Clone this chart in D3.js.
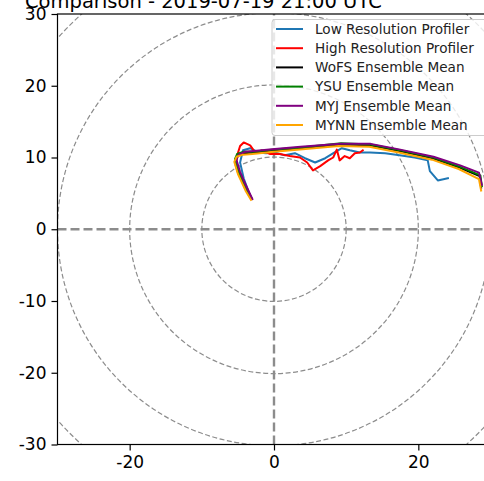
<!DOCTYPE html>
<html>
<head>
<meta charset="utf-8">
<script src="https://cdn.jsdelivr.net/npm/d3@7"></script>
<style>
  html, body { margin: 0; padding: 0; background: #fff; }
  svg { display: block; font-family: "DejaVu Sans", sans-serif; }
</style>
</head>
<body>
<svg id="chart" width="484" height="481"></svg>
<script>
// Hodograph: u (x) and v (y) wind components, m/s
const titleText = "Comparison - 2019-07-19 21:00 UTC";
const xTicks = [-20, 0, 20];
const yTicks = [-30, -20, -10, 0, 10, 20, 30];
const ringRadii = [10, 20, 30, 40, 50];

const seriesNames = ["Low Resolution Profiler", "High Resolution Profiler", "WoFS Ensemble Mean",
                     "YSU Ensemble Mean", "MYJ Ensemble Mean", "MYNN Ensemble Mean"];
const seriesColors = ["#1f77b4", "#ff0000", "#000000", "#008000", "#800080", "#ffa500"];

const lowResU = [-3.3, -4.2, -4.7, -4.3, -3.3, -2.2, -1.1, 0.1, 1.5, 2.9, 4.3, 5.7, 7.1, 8.4, 9.4, 10.5, 11.9, 13.3, 15.4, 17.4, 19.5, 21.3, 21.6, 22.7, 24.1];
const lowResV = [4.6, 7.1, 9.3, 11.0, 11.3, 10.7, 10.6, 10.7, 10.3, 10.6, 9.9, 9.3, 9.9, 10.7, 11.3, 11.0, 10.7, 10.7, 10.6, 10.3, 10.0, 9.6, 8.1, 6.8, 7.1];

const highResU = [-3.6, -5.0, -5.3, -5.1, -4.7, -4.2, -3.3, -2.6, -1.7, -0.6, 0.8, 2.2, 3.6, 4.6, 5.4, 6.4, 7.5, 8.2, 8.7, 9.1, 9.8, 10.5, 11.2, 11.9, 12.3];
const highResV = [5.0, 7.9, 8.9, 10.3, 11.6, 12.1, 11.7, 10.7, 11.0, 10.5, 10.5, 10.2, 10.0, 9.3, 8.2, 8.8, 9.6, 10.0, 11.1, 9.6, 10.2, 9.9, 10.6, 10.7, 11.0];

const wofsU = [-3.1, -3.7, -4.3, -4.8, -5.1, -5.3, -5.0, -4.1, -2.9, 0.0, 3.6, 9.1, 13.3, 17.4, 22.0, 25.7, 28.5, 28.7];
const wofsV = [4.3, 5.5, 6.8, 7.9, 8.9, 9.6, 10.3, 10.6, 10.7, 11.0, 11.3, 11.8, 11.7, 10.9, 9.9, 8.6, 7.4, 5.8];

const ysuU = [-3.2, -3.8, -4.4, -4.9, -5.2, -5.4, -5.1, -4.2, -3.0, 0.0, 3.7, 9.3, 13.4, 17.5, 22.1, 25.8, 28.6, 28.8];
const ysuV = [4.4, 5.6, 6.9, 8.0, 9.0, 9.8, 10.5, 10.8, 10.8, 11.1, 11.4, 12.0, 11.8, 11.0, 10.0, 8.7, 7.5, 6.0];

const myjU = [-3.0, -3.6, -4.2, -4.7, -5.0, -5.2, -4.9, -4.0, -2.8, 0.1, 3.7, 9.2, 13.4, 17.5, 22.1, 25.8, 28.4, 28.8];
const myjV = [4.2, 5.5, 6.8, 8.0, 9.0, 9.7, 10.4, 10.8, 10.9, 11.2, 11.5, 11.9, 11.9, 11.1, 10.1, 8.9, 7.9, 6.2];

const mynnU = [-3.2, -3.9, -4.5, -5.0, -5.3, -5.5, -5.2, -4.3, -3.0, 0.0, 3.6, 9.0, 13.2, 17.3, 21.9, 25.6, 28.4, 28.7];
const mynnV = [4.1, 5.3, 6.6, 7.7, 8.7, 9.4, 10.1, 10.4, 10.5, 10.8, 11.1, 11.6, 11.5, 10.7, 9.7, 8.4, 7.0, 5.4];

const seriesU = [lowResU, highResU, wofsU, ysuU, myjU, mynnU];
const seriesV = [lowResV, highResV, wofsV, ysuV, myjV, mynnV];

const svg = d3.select("#chart");
const x = d3.scaleLinear().domain([-30, 30]).range([57.5, 490.5]);
const y = d3.scaleLinear().domain([-30, 30]).range([444.5, 14]);

svg.append("defs").append("clipPath").attr("id", "plotClip")
  .append("rect")
  .attr("x", x(-30)).attr("y", y(30))
  .attr("width", x(30) - x(-30)).attr("height", y(-30) - y(30));

const plot = svg.append("g").attr("clip-path", "url(#plotClip)");

// speed rings
plot.selectAll("circle.ring").data(ringRadii).join("circle")
  .attr("class", "ring")
  .attr("cx", x(0)).attr("cy", y(0))
  .attr("r", d => x(d) - x(0))
  .attr("fill", "none")
  .attr("stroke", "#8c8c8c")
  .attr("stroke-width", 1.2)
  .attr("stroke-dasharray", "5,2.5");

// zero axes
plot.append("line")
  .attr("x1", x(-30)).attr("x2", x(30)).attr("y1", y(0)).attr("y2", y(0))
  .attr("stroke", "#8c8c8c").attr("stroke-width", 2.4).attr("stroke-dasharray", "9,4");
plot.append("line")
  .attr("x1", x(0)).attr("x2", x(0)).attr("y1", y(-30)).attr("y2", y(30))
  .attr("stroke", "#8c8c8c").attr("stroke-width", 2.4).attr("stroke-dasharray", "9,4");

// hodograph traces
const line = d3.line().x(d => x(d[0])).y(d => y(d[1]));
seriesNames.forEach((name, i) => {
  const pts = seriesU[i].map((u, k) => [u, seriesV[i][k]]);
  plot.append("path")
    .datum(pts)
    .attr("d", line)
    .attr("fill", "none")
    .attr("stroke", seriesColors[i])
    .attr("stroke-width", 2)
    .attr("stroke-linejoin", "round")
    .attr("stroke-linecap", "square");
});

// axes
const xAxis = d3.axisBottom(x).tickValues(xTicks).tickSize(6).tickPadding(5).tickFormat(d3.format("d"));
const yAxis = d3.axisLeft(y).tickValues(yTicks).tickSize(6).tickPadding(5).tickFormat(d3.format("d"));

const gx = svg.append("g").attr("transform", `translate(0,${y(-30)})`).call(xAxis);
const gy = svg.append("g").attr("transform", `translate(${x(-30)},0)`).call(yAxis);
[gx, gy].forEach(g => {
  g.select(".domain").remove();
  g.selectAll(".tick line").attr("stroke", "#000").attr("stroke-width", 1.2);
  g.selectAll(".tick text").attr("fill", "#000").attr("font-size", "17px")
    .attr("font-family", "DejaVu Sans, sans-serif");
});
gy.selectAll(".tick text").text(d => d < 0 ? "-" + Math.abs(d) : d);
gx.selectAll(".tick text").text(d => d < 0 ? "-" + Math.abs(d) : d);

// spines
svg.append("rect")
  .attr("x", x(-30)).attr("y", y(30))
  .attr("width", x(30) - x(-30)).attr("height", y(-30) - y(30))
  .attr("fill", "none").attr("stroke", "#000").attr("stroke-width", 1.2);

// title
svg.append("text")
  .attr("x", 25).attr("y", 7.5)
  .attr("font-size", "19.5px")
  .attr("fill", "#000")
  .text(titleText);

// legend
const legend = svg.append("g").attr("transform", "translate(272,19.5)");
legend.append("rect")
  .attr("x", 0).attr("y", 0).attr("width", 216).attr("height", 116)
  .attr("rx", 3)
  .attr("fill", "#fff").attr("fill-opacity", 0.8)
  .attr("stroke", "#cccccc").attr("stroke-width", 1);
seriesNames.forEach((name, i) => {
  const ly = 9.5 + i * 19.2;
  legend.append("line")
    .attr("x1", 4).attr("x2", 31).attr("y1", ly).attr("y2", ly)
    .attr("stroke", seriesColors[i]).attr("stroke-width", 2);
  legend.append("text")
    .attr("x", 43).attr("y", ly)
    .attr("dy", "0.35em")
    .attr("font-size", "13.6px")
    .attr("fill", "#222")
    .text(name);
});
</script>
</body>
</html>
